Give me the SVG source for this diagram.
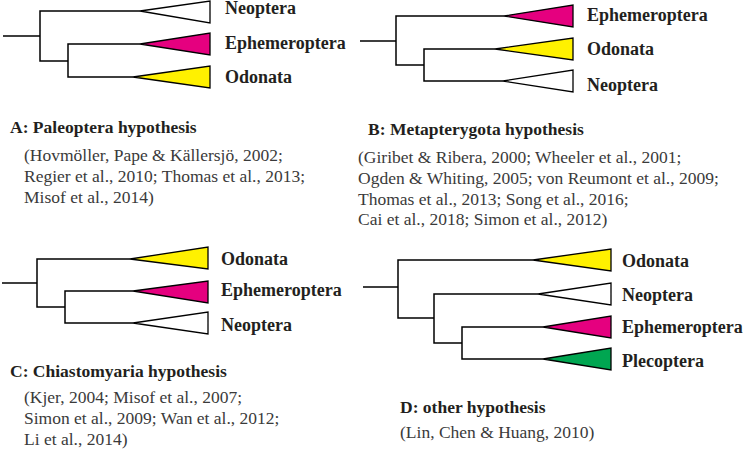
<svg xmlns="http://www.w3.org/2000/svg" width="743" height="451" viewBox="0 0 743 451">
<style>
.br{fill:none;stroke:#000;stroke-width:1.5}
.tri{stroke:#000;stroke-width:1.3;stroke-linejoin:miter}
.w{fill:#fff}.m{fill:#e5007f}.y{fill:#fff100}.g{fill:#00a651}
text{font-family:'Times New Roman','Liberation Serif',Tinos,'DejaVu Serif',serif}
.lb{font-weight:bold;font-size:18px;fill:#231f20}
.cap{font-weight:bold;font-size:17.5px;fill:#231f20}
.ref{font-size:17.5px;fill:#3a3a3a}
</style>
<rect width="743" height="451" fill="#fff"/>
<g id="connectors">
<path class="br" d="M3,36H40M140,11H40V61H68M140,44H68V77H133"/>
<path class="br" d="M360,41H396M504,16H396V65H424M495,49H424V81H503"/>
<path class="br" d="M2,283H37M130,259H37V307H65M133,291H65V323H133"/>
<path class="br" d="M363,287H398M533,260H398V318H434M538,294H434V343H462M543,327H462V359H543"/>
</g>
<g id="A-neoptera"><polygon class="tri w" points="140,11 210,1 210,23"/><text class="lb" x="225" y="14">Neoptera</text></g>
<g id="A-ephemeroptera"><polygon class="tri m" points="140,44 210,33 210,55"/><text class="lb" x="225" y="49">Ephemeroptera</text></g>
<g id="A-odonata"><polygon class="tri y" points="133,77 210,66 210,88"/><text class="lb" x="225" y="83">Odonata</text></g>
<g id="B-ephemeroptera"><polygon class="tri m" points="504,16 573,5 573,27"/><text class="lb" x="587" y="21">Ephemeroptera</text></g>
<g id="B-odonata"><polygon class="tri y" points="495,49 573,38 573,60"/><text class="lb" x="587" y="55">Odonata</text></g>
<g id="B-neoptera"><polygon class="tri w" points="503,81 573,70 573,92"/><text class="lb" x="587" y="91">Neoptera</text></g>
<g id="C-odonata"><polygon class="tri y" points="130,259 208,247 208,269"/><text class="lb" x="221" y="265">Odonata</text></g>
<g id="C-ephemeroptera"><polygon class="tri m" points="133,291 208,281 208,303"/><text class="lb" x="221" y="296">Ephemeroptera</text></g>
<g id="C-neoptera"><polygon class="tri w" points="133,323 208,312 208,334"/><text class="lb" x="221" y="331">Neoptera</text></g>
<g id="D-odonata"><polygon class="tri y" points="533,260 611,249 611,271"/><text class="lb" x="622" y="267">Odonata</text></g>
<g id="D-neoptera"><polygon class="tri w" points="538,294 611,283 611,305"/><text class="lb" x="622" y="301">Neoptera</text></g>
<g id="D-ephemeroptera"><polygon class="tri m" points="543,327 611,316 611,338"/><text class="lb" x="622" y="333">Ephemeroptera</text></g>
<g id="D-plecoptera"><polygon class="tri g" points="543,359 611,348 611,370"/><text class="lb" x="622" y="367">Plecoptera</text></g>
<g id="A-caption"><text class="cap" x="10" y="133">A: Paleoptera hypothesis</text>
<text class="ref" x="24" y="161">(Hovmöller, Pape &amp; Källersjö, 2002;</text>
<text class="ref" x="24" y="182">Regier et al., 2010; Thomas et al., 2013;</text>
<text class="ref" x="24" y="203">Misof et al., 2014)</text></g>
<g id="B-caption"><text class="cap" x="368" y="135">B: Metapterygota hypothesis</text>
<text class="ref" x="358" y="163">(Giribet &amp; Ribera, 2000; Wheeler et al., 2001;</text>
<text class="ref" x="358" y="184">Ogden &amp; Whiting, 2005; von Reumont et al., 2009;</text>
<text class="ref" x="358" y="205">Thomas et al., 2013; Song et al., 2016;</text>
<text class="ref" x="358" y="225">Cai et al., 2018; Simon et al., 2012)</text></g>
<g id="C-caption"><text class="cap" x="10" y="377">C: Chiastomyaria hypothesis</text>
<text class="ref" x="24" y="403">(Kjer, 2004; Misof et al., 2007;</text>
<text class="ref" x="24" y="424">Simon et al., 2009; Wan et al., 2012;</text>
<text class="ref" x="24" y="445">Li et al., 2014)</text></g>
<g id="D-caption"><text class="cap" x="400" y="413">D: other hypothesis</text>
<text class="ref" x="400" y="438">(Lin, Chen &amp; Huang, 2010)</text></g>
</svg>
